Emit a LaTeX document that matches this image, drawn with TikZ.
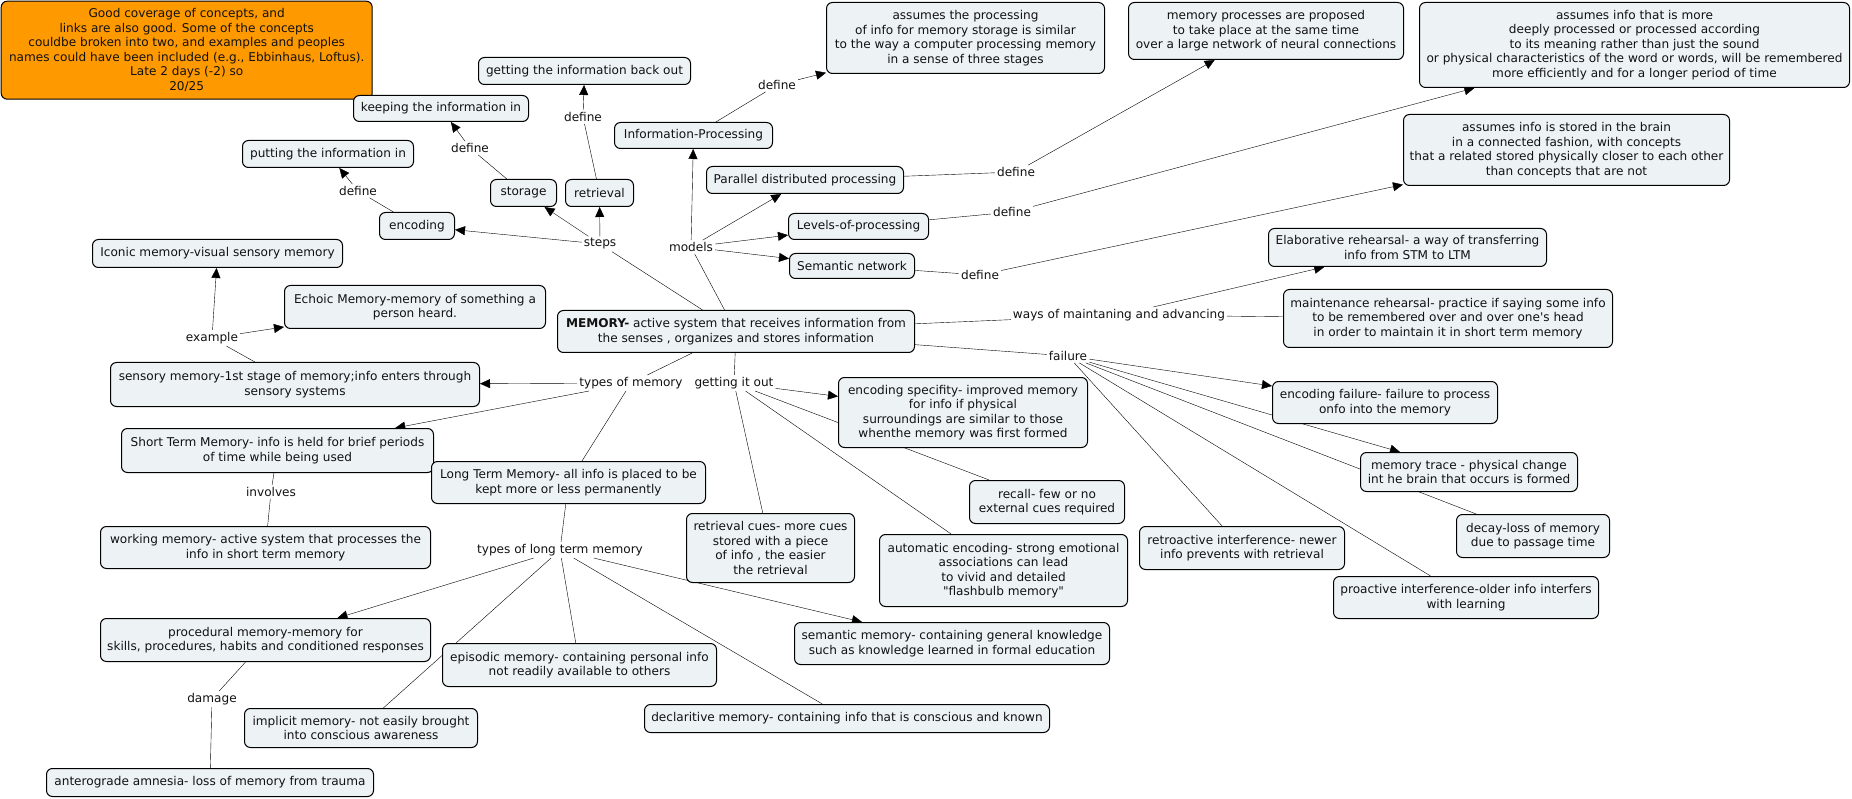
\documentclass[tikz,border=0pt]{standalone}
\usepackage{fontspec}
\newfontfamily\cmapfont{DejaVu Sans}[Ligatures=TeXOff]
\usetikzlibrary{arrows.meta,backgrounds}
\definecolor{conceptfill}{HTML}{EDF3F5}
\definecolor{notefill}{HTML}{FF9900}
\definecolor{inkgray}{HTML}{111111}
\begin{document}
\begin{tikzpicture}[x=1pt, y=-1pt, >={Triangle[length=10pt,width=9pt]},
    concept/.style={draw, line width=1pt, rounded corners=6pt, fill=conceptfill, text=inkgray,
        align=center, anchor=north west, inner sep=1pt, font=\cmapfont\fontsize{12.1}{14.5}\selectfont},
    note/.style={concept, fill=notefill},
    linkword/.style={inner sep=2pt, text=inkgray, font=\cmapfont\fontsize{12.1}{14.5}\selectfont}]
    \useasboundingbox (0,0) rectangle (1852,799);

    \node[note, minimum width=371, minimum height=98] (note) at (0.7,0.7) {Good coverage of concepts, and\\links are also good. Some of the concepts\\couldbe broken into two, and examples and peoples\\names could have been included (e.g., Ebbinhaus, Loftus).\\Late 2 days (-2) so\\20/25};

    \node[concept, minimum width=175, minimum height=26] (keepin) at (353,95) {keeping the information in};
    \node[concept, minimum width=212, minimum height=27] (getback) at (478,57) {getting the information back out};
    \node[concept, minimum width=171, minimum height=27] (putin) at (242,140) {putting the information in};
    \node[concept, minimum width=75, minimum height=27] (encoding) at (379,212) {encoding};
    \node[concept, minimum width=66, minimum height=27] (storage) at (490,179) {storage};
    \node[concept, minimum width=68, minimum height=27] (retrieval) at (565,179) {retrieval};
    \node[concept, minimum width=158, minimum height=26] (infoproc) at (614,122) {Information-Processing};
    \node[concept, minimum width=278, minimum height=71] (ipdef) at (826,2) {assumes the processing\\of info for memory storage is similar\\to the way a computer processing memory\\in a sense of three stages};
    \node[concept, minimum width=197, minimum height=27] (pdp) at (706,166) {Parallel distributed processing};
    \node[concept, minimum width=275, minimum height=57] (pdpdef) at (1128,2) {memory processes are proposed\\to take place at the same time\\over a large network of neural connections};
    \node[concept, minimum width=140, minimum height=26] (lop) at (788,213) {Levels-of-processing};
    \node[concept, minimum width=430, minimum height=85] (lopdef) at (1419,2) {assumes info that is more\\deeply processed or processed according\\to its meaning rather than just the sound\\or physical characteristics of the word or words, will be remembered\\more efficiently and for a longer period of time};
    \node[concept, minimum width=125, minimum height=25] (semnet) at (789,253) {Semantic network};
    \node[concept, minimum width=326, minimum height=71] (semdef) at (1403,114) {assumes info is stored in the brain\\in a connected fashion, with concepts\\that a related stored physically closer to each other\\than concepts that are not};

    \node[concept, minimum width=250, minimum height=28] (iconic) at (92,239) {Iconic memory-visual sensory memory};
    \node[concept, minimum width=261, minimum height=43] (echoic) at (284,285) {Echoic Memory-memory of something a\\person heard.};
    \node[concept, minimum width=357, minimum height=42] (memory) at (557,310) {\textbf{MEMORY-} active system that receives information from\\the senses , organizes and stores information};
    \node[concept, minimum width=369, minimum height=44] (sensory) at (110,362) {sensory memory-1st stage of memory;info enters through\\sensory systems};
    \node[concept, minimum width=312, minimum height=44] (stm) at (121,428) {Short Term Memory- info is held for brief periods\\of time while being used};
    \node[concept, minimum width=274, minimum height=42] (ltm) at (431,461) {Long Term Memory- all info is placed to be\\kept more or less permanently};
    \node[concept, minimum width=330, minimum height=42] (working) at (100,526) {working memory- active system that processes the\\info in short term memory};

    \node[concept, minimum width=249, minimum height=70] (encspec) at (838,377) {encoding specifity- improved memory\\for info if physical\\surroundings are similar to those\\whenthe memory was first formed};
    \node[concept, minimum width=155, minimum height=43] (recall) at (969,480) {recall- few or no\\external cues required};
    \node[concept, minimum width=168, minimum height=69] (retcues) at (686,513) {retrieval cues- more cues\\stored with a piece\\of info , the easier\\the retrieval};
    \node[concept, minimum width=248, minimum height=72] (autoenc) at (879,534) {automatic encoding- strong emotional\\associations can lead\\to vivid and detailed\\"flashbulb memory"};

    \node[concept, minimum width=278, minimum height=38] (elab) at (1268,228) {Elaborative rehearsal- a way of transferring\\info from STM to LTM};
    \node[concept, minimum width=329, minimum height=58] (maint) at (1283,289) {maintenance rehearsal- practice if saying some info\\to be remembered over and over one's head\\in order to maintain it in short term memory};
    \node[concept, minimum width=225, minimum height=42] (encfail) at (1272,381) {encoding failure- failure to process\\onfo into the memory};
    \node[concept, minimum width=217, minimum height=39] (trace) at (1360,452) {memory trace - physical change\\int he brain that occurs is formed};
    \node[concept, minimum width=153, minimum height=43] (decay) at (1456,514) {decay-loss of memory\\due to passage time};
    \node[concept, minimum width=205, minimum height=43] (retro) at (1139,526) {retroactive interference- newer\\info prevents with retrieval};
    \node[concept, minimum width=265, minimum height=42] (proact) at (1333,576) {proactive interference-older info interfers\\with learning};

    \node[concept, minimum width=330, minimum height=43] (procedural) at (100,618) {procedural memory-memory for\\skills, procedures, habits and conditioned responses};
    \node[concept, minimum width=274, minimum height=43] (episodic) at (442,643) {episodic memory- containing personal info\\not readily available to others};
    \node[concept, minimum width=233, minimum height=39] (implicit) at (244,708) {implicit memory- not easily brought\\into conscious awareness};
    \node[concept, minimum width=315, minimum height=42] (semmem) at (794,622) {semantic memory- containing general knowledge\\such as knowledge learned in formal education};
    \node[concept, minimum width=405, minimum height=28] (declar) at (644,704) {declaritive memory- containing info that is conscious and known};
    \node[concept, minimum width=327, minimum height=28] (antero) at (46,768) {anterograde amnesia- loss of memory from trauma};

    \node[linkword] (defenc) at (358,191) {define};
    \node[linkword] (defsto) at (470,148) {define};
    \node[linkword] (defret) at (583,117) {define};
    \node[linkword] (defip) at (777,85) {define};
    \node[linkword] (defpdp) at (1016,172) {define};
    \node[linkword] (deflop) at (1012,212) {define};
    \node[linkword] (defsem) at (980,275) {define};
    \node[linkword] (steps) at (600,244) {steps};
    \node[linkword] (models) at (691,247) {models};
    \node[linkword] (example) at (212,338) {example};
    \node[linkword] (typesmem) at (631,383) {types of memory};
    \node[linkword] (getit) at (734,383) {getting it out};
    \node[linkword] (involves) at (271,492) {involves};
    \node[linkword] (typesltm) at (560,550) {types of long term memory};
    \node[linkword] (damage) at (212,699) {damage};
    \node[linkword] (ways) at (1119,315) {ways of maintaning and advancing};
    \node[linkword] (failure) at (1068,356) {failure};

    \begin{scope}[on background layer, line width=1pt]
        \draw (encoding) -- (defenc);
        \draw [->] (defenc) -- (putin);
        \draw (storage) -- (defsto);
        \draw [->] (defsto) -- (keepin);
        \draw (retrieval) -- (defret);
        \draw [->] (defret) -- (getback);
        \draw (infoproc) -- (defip);
        \draw [->] (defip) -- (ipdef);
        \draw (pdp) -- (defpdp);
        \draw [->] (defpdp) -- (pdpdef);
        \draw (lop) -- (deflop);
        \draw [->] (deflop) -- (lopdef);
        \draw (semnet) -- (defsem);
        \draw [->] (defsem) -- (semdef);

        \draw (memory) -- (steps);
        \draw [->] (steps) -- (encoding);
        \draw [->] (steps) -- (storage);
        \draw [->] (steps) -- (retrieval);
        \draw (memory) -- (models);
        \draw [->] (models) -- (infoproc);
        \draw [->] (models) -- (pdp);
        \draw [->] (models) -- (lop);
        \draw [->] (models) -- (semnet);

        \draw (sensory) -- (example);
        \draw [->] (example) -- (iconic);
        \draw [->] (example) -- (echoic);
        \draw (memory) -- (typesmem);
        \draw [->] (typesmem) -- (sensory);
        \draw [->] (typesmem) -- (stm);
        \draw (typesmem) -- (ltm);
        \draw (stm) -- (involves);
        \draw (involves) -- (working);

        \draw (ltm) -- (typesltm);
        \draw [->] (typesltm) -- (procedural);
        \draw (typesltm) -- (implicit);
        \draw (typesltm) -- (episodic);
        \draw (typesltm) -- (declar);
        \draw [->] (typesltm) -- (semmem);
        \draw (procedural) -- (damage);
        \draw (damage) -- (antero);

        \draw (memory) -- (getit);
        \draw [->] (getit) -- (encspec);
        \draw (getit) -- (recall);
        \draw (getit) -- (autoenc);
        \draw (getit) -- (retcues);

        \draw (memory) -- (ways);
        \draw [->] (ways) -- (elab);
        \draw (ways) -- (maint);
        \draw (memory) -- (failure);
        \draw [->] (failure) -- (encfail);
        \draw [->] (failure) -- (trace);
        \draw (failure) -- (decay);
        \draw (failure) -- (retro);
        \draw (failure) -- (proact);
    \end{scope}
\end{tikzpicture}
\end{document}
